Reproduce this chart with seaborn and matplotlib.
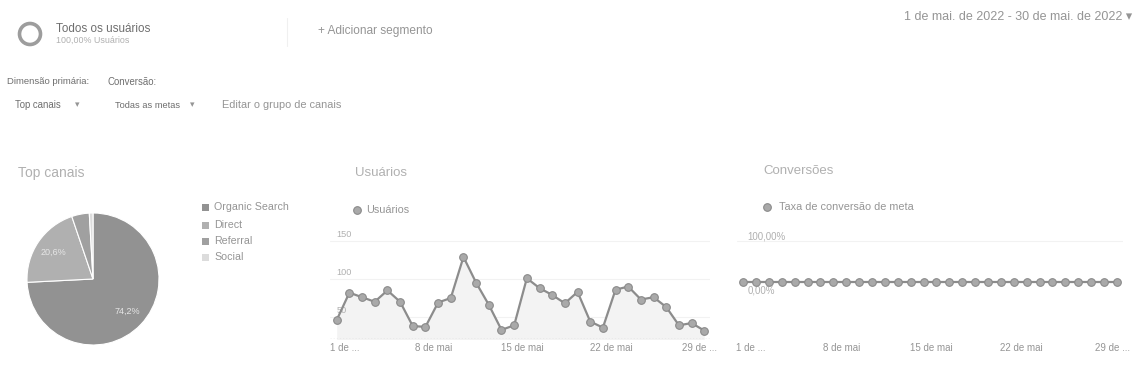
import matplotlib
matplotlib.use("Agg")
import matplotlib.pyplot as plt
import matplotlib.transforms as mtransforms
from matplotlib.patches import Circle
import numpy as np
import pandas as pd
import seaborn as sns

# ---------------- data ----------------
channels = ["Organic Search", "Direct", "Referral", "Social"]
channel_share = [74.2, 20.6, 4.3, 0.9]

days = list(range(1, 31))
users = [46, 82, 76, 70, 85, 70, 38, 37, 69, 75,
         129, 95, 66, 33, 39, 101, 88, 79, 68, 83,
         44, 36, 86, 90, 73, 76, 63, 39, 42, 32]
conversion_rate = [0.0] * 30

tick_days = [1, 8, 15, 22, 29]
tick_labels = ["1 de ...", "8 de mai", "15 de mai", "22 de mai", "29 de ..."]
users_yticks = [50, 100, 150]
conv_yticks = [100, 0]
conv_yticklabels = ["100,00%", "0,00%"]

# ---------------- style ----------------
sns.set_theme(style="white")
plt.rcParams["font.family"] = ["Liberation Sans", "DejaVu Sans"]

W, H = 1136, 383
fig = plt.figure(figsize=(W / 100, H / 100), dpi=100)
fig.patch.set_facecolor("white")


def fx(x):
    return x / W


def fy(y):
    return 1 - y / H


def add_ax(left, top, right, bottom):
    return fig.add_axes([fx(left), fy(bottom), fx(right - left), (bottom - top) / H])


txt_dark = "#6e6e6e"
txt_mid = "#959595"
txt_light = "#b0b0b0"
line_col = "#8c8c8c"

# ---------------- header ----------------
hdr = fig.add_axes([0, 0, 1, 1])
hdr.set_xlim(0, W)
hdr.set_ylim(H, 0)
hdr.axis("off")
hdr.add_patch(Circle((30, 34), 10.5, fill=False, lw=2.6, ec="#9d9d9d"))
hdr.text(56, 29, "Todos os usuários", fontsize=8.4, color=txt_dark, va="center")
hdr.text(56, 40, "100,00% Usuários", fontsize=6.4, color=txt_light, va="center")
hdr.plot([287, 287], [18, 46], color="#f0f0f0", lw=0.8)
hdr.text(318, 31, "+ Adicionar segmento", fontsize=8.6, color=txt_mid, va="center")
hdr.text(1132, 17, "1 de mai. de 2022 - 30 de mai. de 2022 \u25be", fontsize=9.0,
         color=txt_mid, va="center", ha="right")
hdr.text(7, 82, "Dimensão primária:", fontsize=6.8, color=txt_dark, va="center")
hdr.text(108, 82, "Conversão:", fontsize=6.9, color=txt_dark, va="center")
hdr.text(15, 105, "Top canais", fontsize=6.9, color=txt_dark, va="center")
hdr.text(75, 105, "\u25be", fontsize=6.5, color=txt_mid, va="center")
hdr.text(115, 105, "Todas as metas", fontsize=6.7, color=txt_dark, va="center")
hdr.text(190, 105, "\u25be", fontsize=6.5, color=txt_mid, va="center")
hdr.text(222, 105, "Editar o grupo de canais", fontsize=7.9, color=txt_mid, va="center")

hdr.text(18, 173, "Top canais", fontsize=10, color=txt_light, va="center")
hdr.text(355, 173, "Usuários", fontsize=9.5, color=txt_light, va="center")
hdr.text(763, 171, "Conversões", fontsize=9.5, color=txt_light, va="center")

# ---------------- pie ----------------
pie_colors = ["#929292", "#b0b0b0", "#a0a0a0", "#dcdcdc"]
pax = add_ax(27, 213, 159, 345)
wedges, texts, autotexts = pax.pie(
    channel_share, colors=pie_colors, startangle=90, counterclock=False,
    autopct=lambda p: (f"{p:.1f}%".replace(".", ",") if p > 10 else ""),
    pctdistance=0.72, wedgeprops=dict(edgecolor="white", linewidth=0.8))
for t in autotexts:
    t.set_color("#e6e6e6")
    t.set_fontsize(6.5)
pax.set_xlim(-1.0, 1.0)
pax.set_ylim(-1.0, 1.0)
pax.set_aspect("equal")
pax.axis("off")

legend_y = [207, 225, 241, 257]
for name, col, yy in zip(channels, pie_colors, legend_y):
    hdr.add_patch(plt.Rectangle((202, yy - 3.5), 7, 7, color=col, lw=0))
    hdr.text(214, yy, name, fontsize=7.7, color=txt_mid, va="center")

# ---------------- users line ----------------
x_off = mtransforms.ScaledTranslation(8 / 100, 0, fig.dpi_scale_trans)

uax = add_ax(330, 230, 710, 339)
df_u = pd.DataFrame({"dia": days, "usuarios": users})
uax.fill_between(df_u["dia"], df_u["usuarios"], 0, color="#f3f3f3", lw=0, zorder=1)
sns.lineplot(data=df_u, x="dia", y="usuarios", ax=uax, color=line_col, lw=1.6,
             marker="o", markersize=5.5, markerfacecolor="#a9a9a9",
             markeredgecolor="#8a8a8a", markeredgewidth=0.8, zorder=3)
uax.set_xlim(1 - 0.53, 30 + 0.45)
uax.set_ylim(21, 164.5)
for v in users_yticks:
    uax.axhline(v, color="#f2f2f2", lw=0.8, zorder=0)
    uax.text(1, v + 2.5, str(v), fontsize=6.6, color=txt_light, va="bottom", ha="left", zorder=2)
uax.axhline(21.5, color="#a8a8a8", lw=0.9, ls=(0, (1, 1.5)), zorder=2)
uax.set_yticks([])
uax.set_xticks(tick_days)
uax.set_xticklabels(tick_labels)
uax.tick_params(axis="x", length=0, pad=3, labelsize=7.0, labelcolor=txt_mid)
for lab in uax.get_xticklabels():
    lab.set_transform(lab.get_transform() + x_off)
uax.set_xlabel("")
uax.set_ylabel("")
sns.despine(ax=uax, left=True, bottom=True)

hdr.plot([357], [210], marker="o", markersize=5.5, color="#a9a9a9", mec="#8a8a8a", mew=0.8)
hdr.text(366, 210, "Usuários", fontsize=7.8, color=txt_mid, va="center")

# ---------------- conversion line ----------------
cax = add_ax(737, 230, 1123, 339)
df_c = pd.DataFrame({"dia": days, "taxa": conversion_rate})
sns.lineplot(data=df_c, x="dia", y="taxa", ax=cax, color=line_col, lw=1.6,
             marker="o", markersize=5.5, markerfacecolor="#a9a9a9",
             markeredgecolor="#8a8a8a", markeredgewidth=0.8, zorder=3)
cax.set_xlim(1 - 0.47, 30 + 0.47)
cax.set_ylim(-139, 127)
cax.axhline(100, color="#f2f2f2", lw=0.8, zorder=0)
cax.text(1 + 0.35, 100, conv_yticklabels[0], fontsize=7.0, color=txt_light, va="bottom", ha="left")
cax.text(1 + 0.35, -8, conv_yticklabels[1], fontsize=7.0, color=txt_light, va="top", ha="left", zorder=2)
cax.set_yticks([])
cax.set_xticks(tick_days)
cax.set_xticklabels(tick_labels)
cax.tick_params(axis="x", length=0, pad=3, labelsize=7.0, labelcolor=txt_mid)
for lab in cax.get_xticklabels():
    lab.set_transform(lab.get_transform() + x_off)
cax.set_xlabel("")
cax.set_ylabel("")
sns.despine(ax=cax, left=True, bottom=True)

hdr.plot([767], [207], marker="o", markersize=5.5, color="#a9a9a9", mec="#8a8a8a", mew=0.8)
hdr.text(779, 207, "Taxa de conversão de meta", fontsize=7.8, color=txt_mid, va="center")

fig.savefig("out.png", dpi=100, facecolor="white")
